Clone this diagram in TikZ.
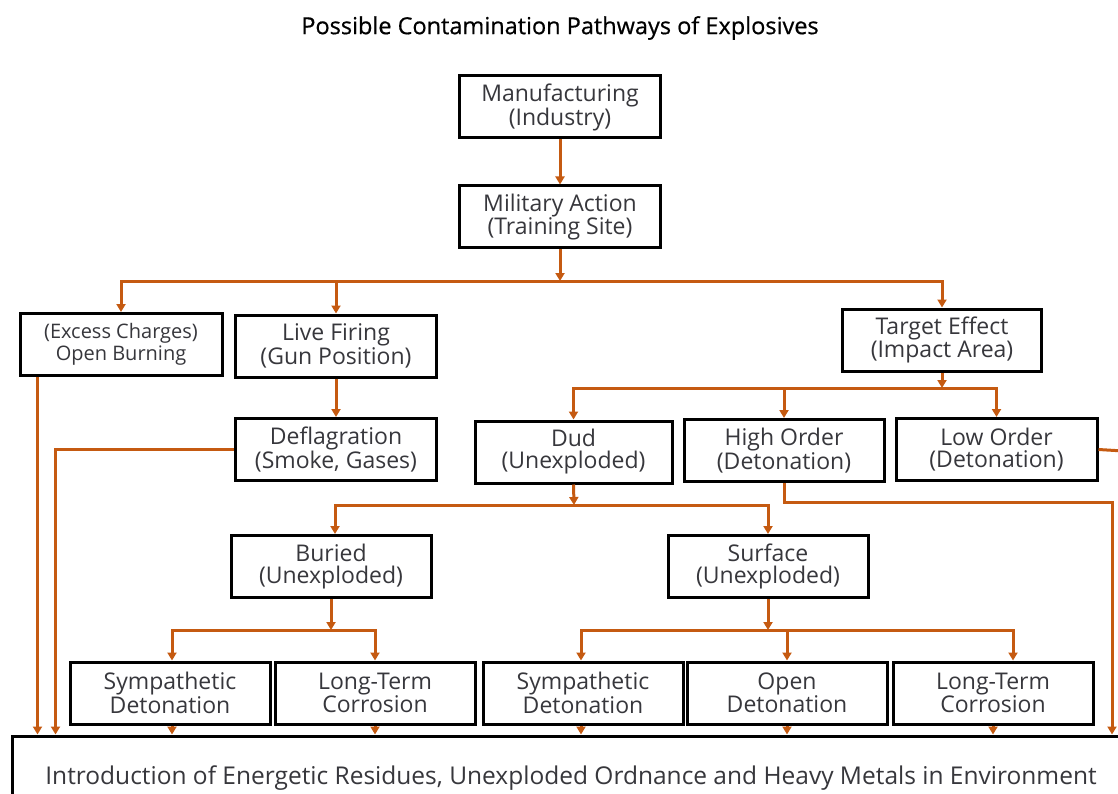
\documentclass[tikz,border=0pt]{standalone}
\usepackage{fontspec}
\setmainfont{Open Sans}
\newfontfamily\titlefont{Open Sans}[FakeBold=0.6]
\usetikzlibrary{arrows.meta}
\definecolor{orng}{RGB}{197,90,17}
\definecolor{txt}{RGB}{55,55,60}
\tikzset{
  box/.style={draw=black, line width=3pt, fill=white, align=center, text=txt,
    font=\fontsize{23}{22}\selectfont, inner sep=0pt, minimum height=62pt},
  line/.style={draw=orng, line width=3pt},
  conn/.style={line, -{Triangle[length=8pt,width=9pt]}},
}
\begin{document}
\begin{tikzpicture}[x=1pt,y=-1pt]
\useasboundingbox (0,0) rectangle (1118,794);
\clip (0,0) rectangle (1118,794);
\node[font=\titlefont\fontsize{23.5}{26}\selectfont, text=black] (title) at (560,28) {Possible Contamination Pathways of Explosives};
% nodes
\node[box, minimum width=201pt] (manu) at (560,107) {Manufacturing\\(Industry)};
\node[box, minimum width=201pt] (mil) at (560,217) {Military Action\\(Training Site)};
\node[box, minimum width=202pt, font=\fontsize{20}{22}\selectfont] (excess) at (121,344.5) {(Excess Charges)\\Open Burning};
\node[box, minimum width=201pt] (live) at (336,346) {Live Firing\\(Gun Position)};
\node[box, minimum width=199pt] (target) at (942,340) {Target Effect\\(Impact Area)};
\node[box, minimum width=201pt] (defl) at (336,449.5) {Deflagration\\(Smoke, Gases)};
\node[box, minimum width=197pt] (dud) at (573.5,452) {Dud\\(Unexploded)};
\node[box, minimum width=200pt] (high) at (784,450.5) {High Order\\(Detonation)};
\node[box, minimum width=201pt] (low) at (996.5,449.5) {Low Order\\(Detonation)};
\node[box, minimum width=200pt] (buried) at (331,566.5) {Buried\\(Unexploded)};
\node[box, minimum width=200pt] (surface) at (768,566.5) {Surface\\(Unexploded)};
\node[box, minimum width=200pt] (sym1) at (170,693) {Sympathetic\\Detonation};
\node[box, minimum width=200pt] (lt1) at (375,693) {Long-Term\\Corrosion};
\node[box, minimum width=200pt] (sym2) at (583,693) {Sympathetic\\Detonation};
\node[box, minimum width=200pt] (open) at (787,693) {Open\\Detonation};
\node[box, minimum width=200pt] (lt2) at (993,693) {Long-Term\\Corrosion};
\node[box, minimum width=1118pt, minimum height=84pt, font=\fontsize{24.5}{26}\selectfont] (env) at (571,778) {Introduction of Energetic Residues, Unexploded Ordnance and Heavy Metals in Environment};
% bus coordinates
\coordinate (b1) at (560,281);
\coordinate (b2) at (942,388);
\coordinate (b3) at (574,505);
\coordinate (b4) at (331,630);
\coordinate (b5) at (768,630);
\coordinate (hx) at (1112,502);
\coordinate (lowout) at (1140,452);
% connectors
\draw[conn] (manu.south) -- (mil.north);
\draw[conn] (mil.south) -- (b1);
\draw[conn] (b1) -| (excess.north);
\draw[conn] (b1) -| (live.north);
\draw[conn] (b1) -| (target.north);
\draw[conn] (live.south) -- (defl.north);
\draw[conn] (target.south) -- (b2);
\draw[conn] (b2) -| (dud.north);
\draw[conn] (b2) -| (high.north);
\draw[conn] (b2) -| (low.north);
\draw[conn] (dud.south) -- (b3);
\draw[conn] (b3) -| ([xshift=4pt]buried.north);
\draw[conn] (b3) -| (surface.north);
\draw[conn] (buried.south) -- (b4);
\draw[conn] (b4) -| ([xshift=2pt]sym1.north);
\draw[conn] (b4) -| (lt1.north);
\draw[conn] (surface.south) -- (b5);
\draw[conn] (b5) -| ([xshift=-2pt]sym2.north);
\draw[conn] (b5) -| (open.north);
\draw[conn] (b5) -| ([xshift=20pt]lt2.north);
\draw[conn] ([xshift=2pt]sym1.south) -- ([xshift=2pt]sym1.south |- env.north);
\draw[conn] (lt1.south) -- (lt1.south |- env.north);
\draw[conn] ([xshift=-2pt]sym2.south) -- ([xshift=-2pt]sym2.south |- env.north);
\draw[conn] (open.south) -- (open.south |- env.north);
\draw[conn] (lt2.south) -- (lt2.south |- env.north);
\draw[conn] ([xshift=19pt]excess.south west) -- ([xshift=19pt]excess.south west |- env.north);
\draw[conn] (defl.west) -| ([xshift=45pt]env.north west);
\draw[conn] (high.south) |- (hx) -- (hx |- env.north);
\draw[line] (low.east) -- (lowout);
\end{tikzpicture}
\end{document}
